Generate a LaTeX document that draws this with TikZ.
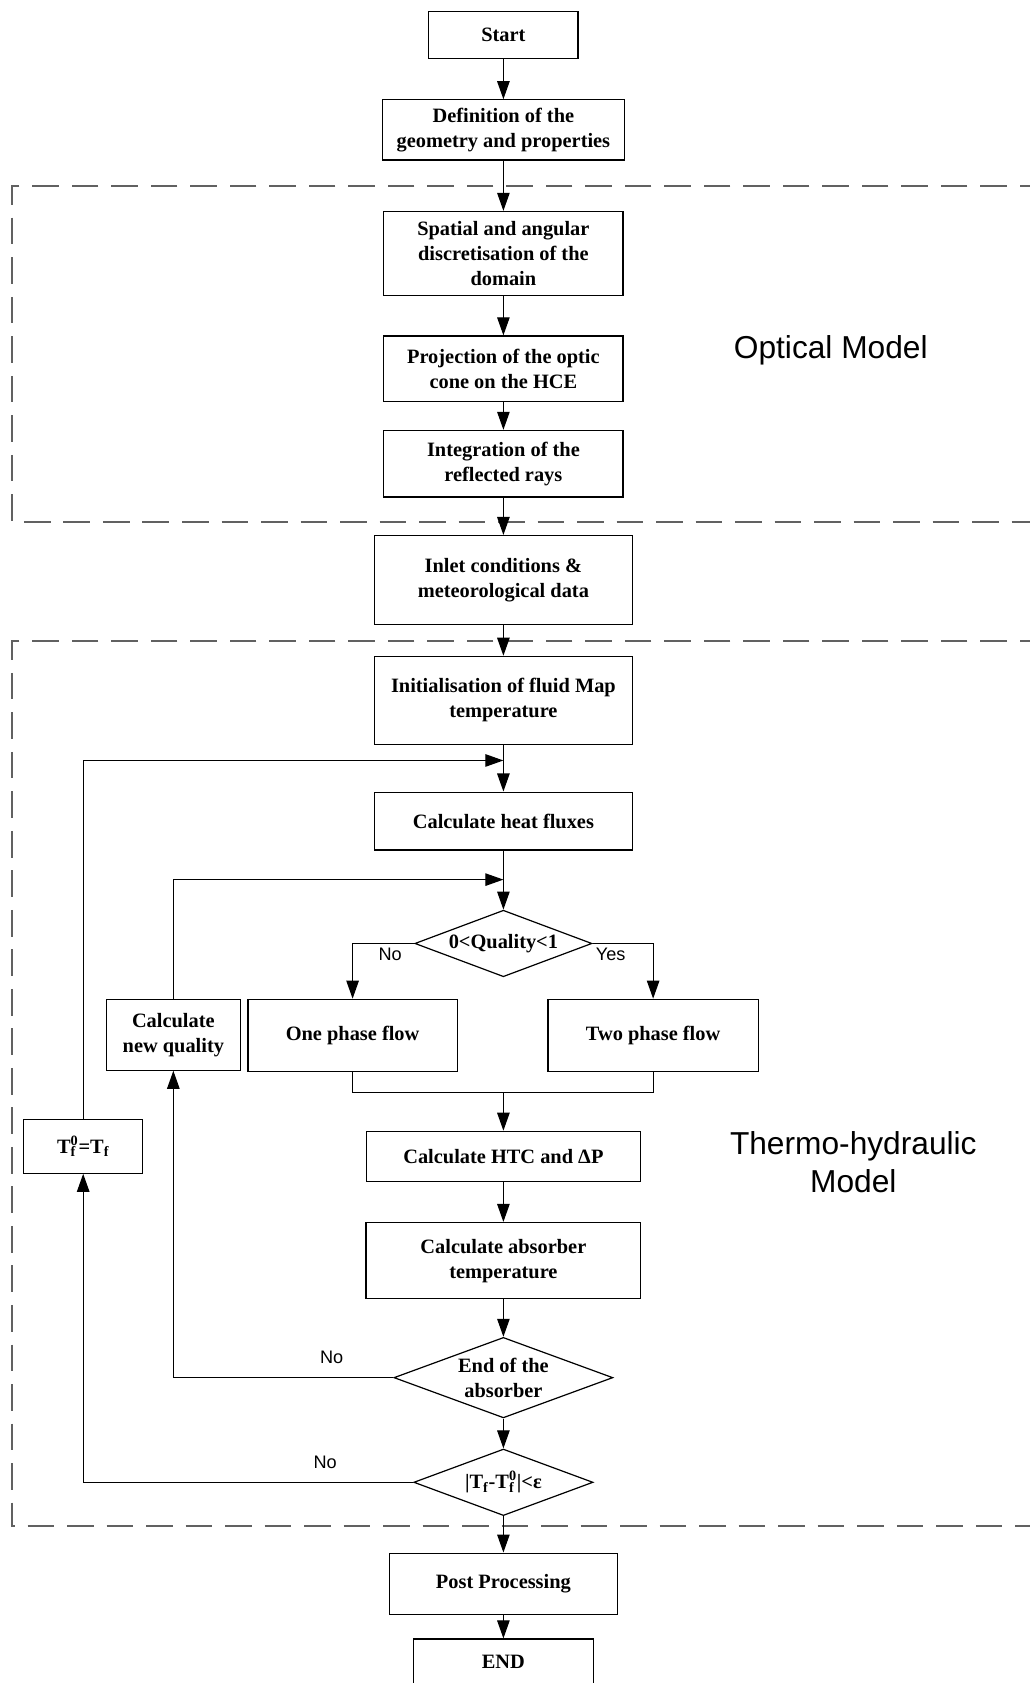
\documentclass[tikz,border=0pt]{standalone}
\usepackage{fontspec}
\setmainfont{Liberation Serif}
\newfontfamily\arialfont{Liberation Sans}
\usetikzlibrary{shapes.geometric,arrows.meta}

\begin{document}
\begin{tikzpicture}[x=0.025cm, y=-0.025cm,
  font=\fontsize{13.5}{16.5}\selectfont\bfseries,
  box/.style 2 args={draw, line width=0.8pt, align=center, inner sep=1pt,
    minimum width=#1*0.025cm, minimum height=#2*0.025cm},
  dec/.style 2 args={draw, diamond, aspect=2.7, line width=0.8pt, align=center,
    inner sep=0pt, minimum width=#1*0.025cm, minimum height=#2*0.025cm},
  arr/.style={line width=0.8pt, -{Triangle[length=4.2mm,width=2.9mm]}},
  lnk/.style={line width=0.8pt},
  zone/.style={draw=black!62, line width=1.4pt, dash pattern=on 6.2mm off 3mm},
  lbl/.style={font=\arialfont\fontsize{12}{14}\selectfont},
  title/.style={font=\arialfont\fontsize{21}{25}\selectfont, align=center}]
\useasboundingbox (0,0) rectangle (959,1568);
% dashed model zones
\draw[zone] (975,173) -| (11,486) -- (975,486);
\draw[zone] (975,597) -| (11,1422) -- (975,1422);
\node[title] (optm) at (774,326) {Optical Model};
\node[title] (thm) at (795,1083) {Thermo-hydraulic\\Model};
% main column
\node[box={139}{44}] (start) at (469,32.5) {Start};
\node[box={226}{56}] (defn) at (469,121) {Definition of the\\geometry and properties};
% optical model
\node[box={223}{78}] (disc) at (469,236) {Spatial and angular\\discretisation of the\\domain};
\node[box={223}{61}] (proj) at (469,343.5) {Projection of the optic\\cone on the HCE};
\node[box={223}{62}] (integ) at (469,432) {Integration of the\\reflected rays};
\node[box={240}{83}] (inlet) at (469,540.5) {Inlet conditions \&\\meteorological data};
% thermo-hydraulic model
\node[box={240}{82}] (init) at (469,652.5) {Initialisation of fluid Map\\temperature};
\node[box={240}{54}] (flux) at (469,765) {Calculate heat fluxes};
\node[dec={165}{62}] (qual) at (469,879) {0<Quality<1};
\node[box={195}{67}] (one) at (328.5,964.5) {One phase flow};
\node[box={196}{67}] (two) at (608.5,964.5) {Two phase flow};
\node[box={125}{66}] (newq) at (161.5,964) {Calculate\\new quality};
\node[box={111}{50}] (tset) at (77.5,1068) {T\rlap{\textsubscript{f}}\textsuperscript{0}=T\textsubscript{f}};
\node[box={255}{47}] (htc) at (469,1077.5) {Calculate HTC and ΔP};
\node[box={256}{71}] (absb) at (469,1174.5) {Calculate absorber\\temperature};
\node[dec={204}{75}] (endabs) at (469,1283.5) {End of the\\absorber};
\node[dec={167}{62}] (conv) at (469,1381) {|T\textsubscript{f}-T\rlap{\textsubscript{f}}\textsuperscript{0}|<ε};
\node[box={212}{57}] (post) at (469,1475.5) {Post Processing};
\node[box={168}{43}] (fin) at (469,1548.5) {END};
\coordinate (j1) at (469,708.5);
\coordinate (j2) at (469,819.5);
\coordinate (m) at (469,1018);
% connectors
\draw[arr] (start) -- (defn);
\draw[arr] (defn) -- (disc);
\draw[arr] (disc) -- (proj);
\draw[arr] (proj) -- (integ);
\draw[arr] (integ) -- (inlet);
\draw[arr] (inlet) -- (init);
\draw[arr] (init) -- (flux);
\draw[arr] (flux) -- (qual);
\draw[arr] (qual.west) -| (one.north);
\draw[arr] (qual.east) -| (two.north);
\draw[lnk] (one.south) |- (m) -| (two.south);
\draw[arr] (m) -- (htc);
\draw[arr] (htc) -- (absb);
\draw[arr] (absb) -- (endabs);
\draw[arr] (endabs) -- (conv);
\draw[arr] (conv) -- (post);
\draw[arr] (post) -- (fin);
% loops back
\draw[arr] (endabs.west) -| (newq.south);
\draw[arr] (newq.north) |- (j2);
\draw[arr] (conv.west) -| (tset.south);
\draw[arr] (tset.north) |- (j1);
\node[lbl] (no1) at (363.5,889) {No};
\node[lbl] (yes1) at (569,889) {Yes};
\node[lbl] (no2) at (309,1265) {No};
\node[lbl] (no3) at (303,1362.5) {No};
\end{tikzpicture}
\end{document}
